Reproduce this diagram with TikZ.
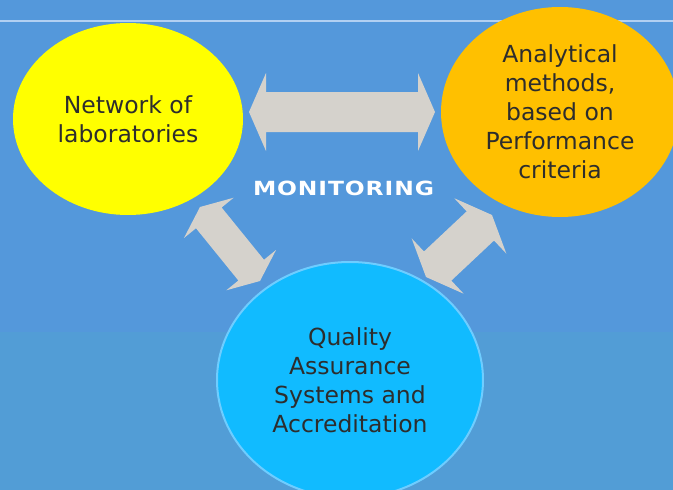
\documentclass[tikz,border=0pt]{standalone}
\usepackage{fontspec}
\setmainfont{DejaVu Sans}
\newfontfamily\headfont[FakeStretch=1.2]{DejaVu Sans}
\usetikzlibrary{shapes.geometric,calc}

\definecolor{bgtop}{RGB}{84,152,219}
\definecolor{bgbottom}{RGB}{82,157,214}
\definecolor{rulecol}{RGB}{178,208,242}
\definecolor{labyellow}{RGB}{255,255,0}
\definecolor{methorange}{RGB}{255,192,0}
\definecolor{qacyan}{RGB}{17,187,255}
\definecolor{qarim}{RGB}{110,205,255}
\definecolor{arrowfill}{RGB}{213,210,204}
\definecolor{inktext}{RGB}{45,45,45}

% Block double arrow between two named tips:
% #1, #2 tips; #3 head length; #4 shaft half width; #5 head half width
\newcommand{\fatarrow}[5]{%
  \fill[arrowfill]
    (#1)
    -- ($(#1)!#3!(#2)!#5!90:(#2)$)
    -- ($(#1)!#3!(#2)!#4!90:(#2)$)
    -- ($(#2)!#3!(#1)!#4!-90:(#1)$)
    -- ($(#2)!#3!(#1)!#5!-90:(#1)$)
    -- (#2)
    -- ($(#2)!#3!(#1)!#5!90:(#1)$)
    -- ($(#2)!#3!(#1)!#4!90:(#1)$)
    -- ($(#1)!#3!(#2)!#4!-90:(#2)$)
    -- ($(#1)!#3!(#2)!#5!-90:(#2)$)
    -- cycle;}

\tikzset{
  bubble/.style={ellipse, inner sep=0pt, align=center, text=inktext,
    font={\fontsize{23.5}{29}\selectfont}},
  heading/.style={text=white, anchor=base,
    font={\headfont\bfseries\fontsize{19.5}{19.5}\selectfont}}
}

\begin{document}
\begin{tikzpicture}[x=1pt, y=-1pt]
  \useasboundingbox (0,0) rectangle (673,490);
  \clip (0,0) rectangle (673,490);

  % backdrop and top rule
  \fill[bgtop] (0,0) rectangle (673,332);
  \fill[bgbottom] (0,332) rectangle (673,490);
  \draw[rulecol, line width=1.5pt] (0,21) -- (673,21);

  % arrow tips
  \coordinate (h-left) at (249,112);
  \coordinate (h-right) at (435,112);
  \coordinate (l-top) at (200,207);
  \coordinate (l-bottom) at (260,281);
  \coordinate (r-bottom) at (426,277);
  \coordinate (r-top) at (492,215);

  \fatarrow{h-left}{h-right}{17pt}{20pt}{39pt}
  \fatarrow{l-top}{l-bottom}{14pt}{16.5pt}{32pt}
  \fatarrow{r-bottom}{r-top}{16pt}{20pt}{38pt}

  % the three pillars
  \node[bubble, fill=labyellow, minimum width=230pt, minimum height=192pt]
    (labs) at (128,119) {Network of\\laboratories};
  \node[bubble, fill=methorange, minimum width=238pt, minimum height=210pt]
    (methods) at (560,112) {Analytical\\methods,\\based on\\Performance\\criteria};
  \node[bubble, fill=qacyan, draw=qarim, line width=2pt,
    minimum width=266pt, minimum height=236pt]
    (quality) at (350,380) {Quality\\Assurance\\Systems and\\Accreditation};

  \node[heading] (monitor) at (343.5,195)
    {\makebox[181pt][s]{M\hfil O\hfil N\hfil I\hfil T\hfil O\hfil R\hfil I\hfil N\hfil G}};
\end{tikzpicture}
\end{document}
